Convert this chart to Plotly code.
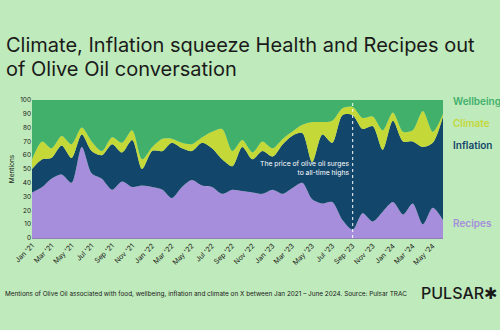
import plotly.graph_objects as go
import pandas as pd

# Monthly share of olive-oil mentions by topic (%), Jan 2021 - Jun 2024
months = pd.date_range("2021-01-01", "2024-06-01", freq="MS")
recipes = [33, 37, 43, 46, 40, 66, 47, 43, 35, 41, 37, 38, 37, 35, 29, 37, 42, 38, 37, 32, 35,
           34, 33, 32, 35, 32, 36, 40, 28, 25, 26, 13, 6, 18, 12, 19, 26, 17, 25, 10, 22, 13]
inflation = [17, 20, 15, 21, 18, 9, 16, 17, 33, 21, 34, 12, 26, 28, 40, 28, 21, 31, 28, 25, 17,
             32, 24, 31, 24, 36, 38, 36, 27, 50, 43, 76, 83, 61, 69, 45, 59, 53, 45, 56, 47, 75]
climate = [7, 13, 7, 7, 10, 5, 7, 3, 5, 7, 7, 7, 3, 9, 3, 4, 5, 4, 12, 22, 11,
           5, 5, 7, 6, 4, 3, 6, 29, 9, 16, 5, 6, 8, 7, 14, 6, 7, 8, 26, 8, 2]
wellbeing = [43, 30, 35, 26, 32, 20, 30, 37, 27, 31, 22, 43, 34, 28, 28, 31, 32, 27, 23, 21, 37,
             29, 38, 30, 35, 28, 23, 18, 16, 16, 15, 6, 5, 13, 12, 22, 9, 23, 22, 8, 23, 10]

series = [
    ("Recipes", recipes, "#a68edc"),
    ("Inflation", inflation, "#13466b"),
    ("Climate", climate, "#c4d838"),
    ("Wellbeing", wellbeing, "#40b06b"),
]

tick_dates = months[::2]
tick_text = [d.strftime("%b '%y") for d in tick_dates]
event_date = pd.Timestamp("2023-09-01")

BG = "#bfeabb"
INK = "#1a1a1a"

fig = go.Figure()
for name, vals, color in series:
    fig.add_trace(go.Scatter(
        x=months, y=vals, name=name, mode="lines",
        stackgroup="one", fillcolor=color,
        line=dict(width=0, color=color, shape="spline", smoothing=0.8),
        hoverinfo="skip",
    ))

fig.update_layout(
    width=500, height=330,
    margin=dict(l=30, r=57, t=100, b=92),
    paper_bgcolor=BG, plot_bgcolor=BG,
    showlegend=False,
    font=dict(family="Inter", color=INK),
)

fig.update_xaxes(
    range=[months[0], months[-1]],
    tickvals=tick_dates, ticktext=tick_text,
    tickangle=-45, tickfont=dict(size=7, color=INK),
    showgrid=False, zeroline=False,
    showline=True, linecolor="#8c7fb8", linewidth=1.2,
    ticks="",
)
fig.update_yaxes(
    range=[0, 100], tickvals=list(range(0, 101, 10)),
    tickfont=dict(size=6.5, color=INK),
    showgrid=False, zeroline=False,
    title=dict(text="Mentions", font=dict(size=6.5, color=INK), standoff=4),
)

# event marker
fig.add_shape(type="line", x0=event_date, x1=event_date, y0=0, y1=100,
              xref="x", yref="y", line=dict(color="white", width=1, dash="dot"))
fig.add_annotation(x=event_date, y=51, xref="x", yref="y", xanchor="right", yanchor="middle",
                   xshift=-2, align="right", showarrow=False,
                   text="The price of olive oil surges<br>to all-time highs",
                   font=dict(size=6.8, color="white"))


def px_x(px):
    return (px - 30) / 413


def px_y(py):
    return (238 - py) / 138


# title
fig.add_annotation(x=px_x(2), y=px_y(45), xref="paper", yref="paper",
                   xanchor="left", yanchor="middle", showarrow=False,
                   text="Climate, Inflation squeeze Health and Recipes out",
                   font=dict(size=20, color=INK))
fig.add_annotation(x=px_x(2), y=px_y(69), xref="paper", yref="paper",
                   xanchor="left", yanchor="middle", showarrow=False,
                   text="of Olive Oil conversation",
                   font=dict(size=20, color=INK))

# direct labels on the right
for name, py, color in [("Wellbeing", 101, "#40b06b"), ("Climate", 123, "#c4d838"),
                        ("Inflation", 145, "#13466b"), ("Recipes", 223, "#a68edc")]:
    fig.add_annotation(x=px_x(451), y=px_y(py), xref="paper", yref="paper",
                       xanchor="left", yanchor="middle", showarrow=False,
                       text=name, font=dict(size=10, color=color, weight=600))

# footer
fig.add_annotation(x=px_x(1), y=px_y(294), xref="paper", yref="paper",
                   xanchor="left", yanchor="middle", showarrow=False,
                   text="Mentions of Olive Oil associated with food, wellbeing, inflation and climate on X between Jan 2021 – June 2024. Source: Pulsar TRAC",
                   font=dict(size=6.4, color=INK))
fig.add_annotation(x=px_x(499), y=px_y(293), xref="paper", yref="paper",
                   xanchor="right", yanchor="middle", showarrow=False,
                   text="PULSAR✱", font=dict(size=16, color=INK, weight=500))

fig.write_html("out.html")
